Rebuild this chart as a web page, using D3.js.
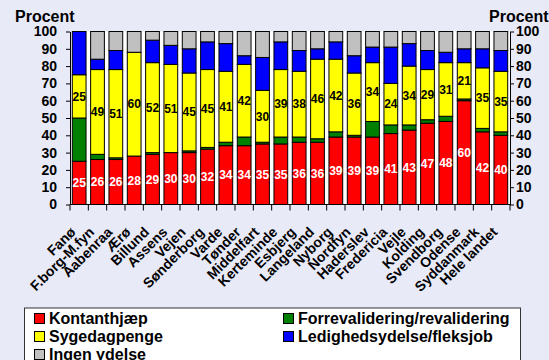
<!DOCTYPE html>
<html><head><meta charset="utf-8">
<script src="https://cdn.jsdelivr.net/npm/d3@7"></script>
<style>
html,body{margin:0;padding:0;background:#E8EAF8;}
svg{display:block;font-family:"Liberation Sans",Arial,sans-serif;font-weight:bold;}
</style></head>
<body>
<svg id="c" width="549" height="360"></svg>
<script>
const categories = ["Fanø","F.borg-M.fyn","Aabenraa","Ærø","Billund","Assens","Vejen","Sønderborg","Varde","Tønder","Middelfart","Kerteminde","Esbjerg","Langeland","Nyborg","Nordfyn","Haderslev","Fredericia","Vejle","Kolding","Svendborg","Odense","Syddanmark","Hele landet"];
const kontanthjaep = [25,26,26,28,29,30,30,32,34,34,35,35,36,36,39,39,39,41,43,47,48,60,42,40];
const forrevalidering = [25,3,1,0,1,0,1,1,2,5,1,4,3,2,3,1,9,5,3,2,3,1,2,2];
const sygedagpenge = [25,49,51,60,52,51,45,45,41,42,30,39,38,46,42,36,34,24,34,29,31,21,35,35];
const ledighedsydelse = [25,6,11,0,13,11,14,16,16,5,19,16,12,6,10,10,9,21,13,11,6,8,11,12];
const ingenYdelse = [0,16,11,12,5,8,10,6,7,14,15,6,11,10,6,14,9,9,7,11,12,10,10,11];
const yTicks = [0,10,20,30,40,50,60,70,80,90,100];

const seriesNames = ["Kontanthjæp","Forrevalidering/revalidering","Sygedagpenge","Ledighedsydelse/fleksjob","Ingen ydelse"];
const seriesColors = ["#FF0000","#008000","#FFFF00","#0000FF","#C0C0C0"];
const seriesData = [kontanthjaep, forrevalidering, sygedagpenge, ledighedsydelse, ingenYdelse];

const svg = d3.select("#c");
const L = 70, R = 510, T = 31.5, B = 204.5;

const x = d3.scaleBand().domain(categories).range([L, R]).paddingInner(0.25).paddingOuter(0.125);
const y = d3.scaleLinear().domain([0,100]).range([B, T]);

svg.append("rect").attr("x", L).attr("y", T).attr("width", R-L).attr("height", B-T).attr("fill", "#fff");

const rows = categories.map((c,i) => {
  const o = {cat: c};
  seriesNames.forEach((s,k) => o[s] = seriesData[k][i]);
  return o;
});
const stack = d3.stack().keys(seriesNames)(rows);

stack.forEach((layer, k) => {
  svg.append("g").selectAll("rect").data(layer.filter(d => d[1]-d[0] > 0)).join("rect")
    .attr("x", d => x(d.data.cat))
    .attr("width", x.bandwidth())
    .attr("y", d => y(d[1]))
    .attr("height", d => y(d[0]) - y(d[1]))
    .attr("fill", seriesColors[k])
    .attr("stroke", "#000").attr("stroke-width", 1);
});

// value labels for Kontanthjæp (white) and Sygedagpenge (black)
[[0,"#fff"],[2,"#000"]].forEach(([k,col]) => {
  svg.append("g").selectAll("text").data(stack[k]).join("text")
    .attr("x", d => x(d.data.cat) + x.bandwidth()/2)
    .attr("y", d => y((d[0]+d[1])/2))
    .attr("dy", "0.36em")
    .attr("text-anchor", "middle")
    .attr("font-size", 12)
    .attr("fill", col)
    .text(d => seriesData[k][categories.indexOf(d.data.cat)]);
});

// axes
const yl = svg.append("g").attr("transform", `translate(${L},0)`)
  .call(d3.axisLeft(y).tickValues(yTicks).tickSizeInner(4).tickSizeOuter(0).tickPadding(9));
const yr = svg.append("g").attr("transform", `translate(${R},0)`)
  .call(d3.axisRight(y).tickValues(yTicks).tickSizeInner(4).tickSizeOuter(0).tickPadding(2));
[yl, yr].forEach(g => {
  g.selectAll("text").attr("font-size", 14).attr("font-family", null).attr("fill", "#000");
  g.selectAll("line,path").attr("stroke", "#000");
  g.attr("font-family", null);
});

// bottom axis: line + ticks at band boundaries
const step = x.step();
const bounds = d3.range(categories.length + 1).map(i => L + i * step);
svg.append("line").attr("x1", L).attr("x2", R).attr("y1", B).attr("y2", B).attr("stroke", "#000");
svg.append("g").selectAll("line").data(bounds).join("line")
  .attr("x1", d => d).attr("x2", d => d).attr("y1", B).attr("y2", B + 6).attr("stroke", "#000");

svg.append("g").selectAll("text").data(categories).join("text")
  .attr("transform", d => `translate(${x(d) + x.bandwidth()/2 - 6},${B + 25}) rotate(-45)`)
  .attr("text-anchor", "end")
  .attr("dy", "0.35em")
  .attr("font-size", 14)
  .text(d => d);

svg.append("text").attr("x", 15).attr("y", 21.5).attr("font-size", 16).text("Procent");
svg.append("text").attr("x", 489).attr("y", 21.5).attr("font-size", 16).text("Procent");

// legend
svg.append("rect").attr("x", 24.5).attr("y", 308).attr("width", 496).attr("height", 70)
  .attr("fill", "#fff").attr("stroke", "#333").attr("stroke-width", 1);
const legPos = [[34,313.5],[283,313.5],[34,331.5],[283,331.5],[34,349.5]];
seriesNames.forEach((s,k) => {
  const [lx, ly] = legPos[k];
  svg.append("rect").attr("x", lx + 0.5).attr("y", ly).attr("width", 10).attr("height", 10)
    .attr("fill", seriesColors[k]).attr("stroke", "#000");
  svg.append("text").attr("x", lx + 15).attr("y", ly + 10.5).attr("font-size", 16).text(s);
});
</script>
</body></html>
